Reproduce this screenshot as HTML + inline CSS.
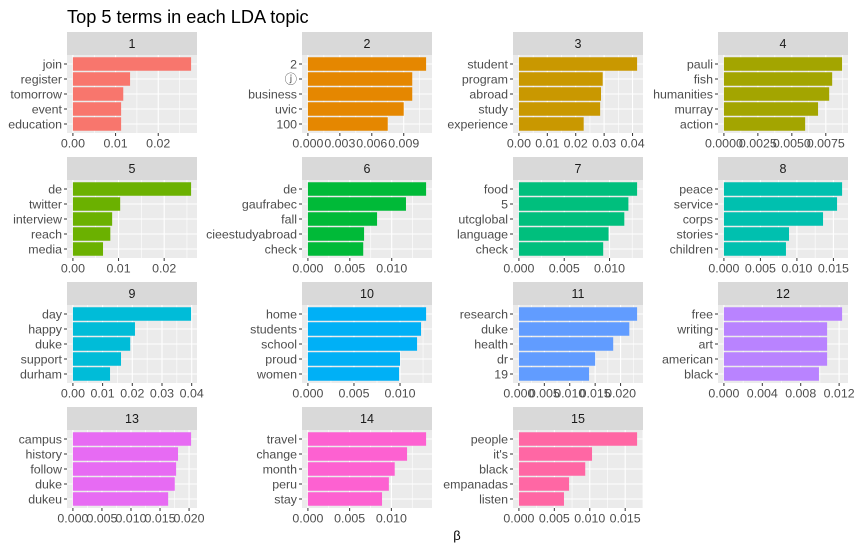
<!DOCTYPE html>
<html><head><meta charset="utf-8">
<style>
body{margin:0;background:#fff;}
svg{display:block;font-family:"Liberation Sans","DejaVu Sans",sans-serif;}
</style></head>
<body>
<svg id="chart" width="856" height="551" viewBox="0 0 856 551">
<text x="67" y="23" font-size="18.2" fill="#000">Top 5 terms in each LDA topic</text>
<text x="457" y="540" font-size="13" fill="#000" text-anchor="middle">β</text>
</svg>
<script>
const topicLabels = ["1","2","3","4","5","6","7","8","9","10","11","12","13","14","15"];
const topicTerms = [
 ["join","register","tomorrow","event","education"],
 ["2","ⓙ","business","uvic","100"],
 ["student","program","abroad","study","experience"],
 ["pauli","fish","humanities","murray","action"],
 ["de","twitter","interview","reach","media"],
 ["de","gaufrabec","fall","cieestudyabroad","check"],
 ["food","5","utcglobal","language","check"],
 ["peace","service","corps","stories","children"],
 ["day","happy","duke","support","durham"],
 ["home","students","school","proud","women"],
 ["research","duke","health","dr","19"],
 ["free","writing","art","american","black"],
 ["campus","history","follow","duke","dukeu"],
 ["travel","change","month","peru","stay"],
 ["people","it's","black","empanadas","listen"]
];
const topicBetas = [
 [0.0277,0.0134,0.0118,0.0113,0.0113],
 [0.0111,0.0098,0.0098,0.0090,0.0075],
 [0.0416,0.0295,0.0289,0.0286,0.0228],
 [0.0087,0.00797,0.00775,0.00693,0.00598],
 [0.0259,0.01036,0.0086,0.0082,0.0066],
 [0.0141,0.0117,0.00825,0.0067,0.0066],
 [0.01304,0.01208,0.01163,0.00989,0.0093],
 [0.01619,0.0155,0.01358,0.00892,0.0085],
 [0.0398,0.0209,0.0193,0.0162,0.0125],
 [0.01283,0.01228,0.01185,0.0100,0.0099],
 [0.02325,0.02172,0.01855,0.0150,0.0138],
 [0.01231,0.01075,0.01075,0.01075,0.0099],
 [0.02035,0.0181,0.01777,0.01754,0.0164],
 [0.01416,0.01188,0.0104,0.0097,0.00888],
 [0.01668,0.01032,0.00936,0.00708,0.00636]
];
const topicTicks = [
 [0,0.01,0.02],[0,0.003,0.006,0.009],[0,0.01,0.02,0.03,0.04],[0,0.0025,0.005,0.0075],
 [0,0.01,0.02],[0,0.005,0.01],[0,0.005,0.01],[0,0.005,0.01,0.015],
 [0,0.01,0.02,0.03,0.04],[0,0.005,0.01],[0,0.005,0.01,0.015,0.02],[0,0.004,0.008,0.012],
 [0,0.005,0.01,0.015,0.02],[0,0.005,0.01],[0,0.005,0.01,0.015]
];
const topicTickLabels = [
 ["0.00","0.01","0.02"],["0.000","0.003","0.006","0.009"],["0.00","0.01","0.02","0.03","0.04"],["0.0000","0.0025","0.0050","0.0075"],
 ["0.00","0.01","0.02"],["0.000","0.005","0.010"],["0.000","0.005","0.010"],["0.000","0.005","0.010","0.015"],
 ["0.00","0.01","0.02","0.03","0.04"],["0.000","0.005","0.010"],["0.000","0.005","0.010","0.015","0.020"],["0.000","0.004","0.008","0.012"],
 ["0.000","0.005","0.010","0.015","0.020"],["0.000","0.005","0.010"],["0.000","0.005","0.010","0.015"]
];
const topicColors = ["#F8766D","#E58700","#C99800","#A3A500","#6BB100","#00BA38","#00BF7D","#00C0AF","#00BCD8","#00B0F6","#619CFF","#B983FF","#E76BF3","#FD61D1","#FF67A4"];

const NS="http://www.w3.org/2000/svg";
const svg=document.getElementById('chart');
const colX=[67,302,513,718], rowY=[32,157,282,407];
const PW=130, SH=23, PH=78, FS=12.4;
function mk(tag,attrs,parent){const e=document.createElementNS(NS,tag);for(const k in attrs)e.setAttribute(k,attrs[k]);(parent||svg).appendChild(e);return e;}

topicLabels.forEach((lab,p)=>{
  const x0=colX[p%4], y0=rowY[Math.floor(p/4)], py=y0+SH;
  const vals=topicBetas[p], M=Math.max(...vals);
  const dmin=-0.05*M, dmax=1.05*M;
  const xs=v=>x0+(v-dmin)/(dmax-dmin)*PW;
  const ys=i=>py+(0.6+i)*PH/5.2;
  const g=mk('g',{});
  
  
  const strip=mk('rect',{x:x0,y:y0,width:PW,height:SH,fill:'#D9D9D9'},g);
  
  
  const st=mk('text',{x:x0+PW/2,y:y0+16,'font-size':12.5,'text-anchor':'middle',fill:'#1A1A1A'},g);
  st.textContent=lab;
  
  
  const bg=mk('rect',{x:x0,y:py,width:PW,height:PH,fill:'#EBEBEB'},g);
  
  
  const ticks=topicTicks[p], step=ticks[1]-ticks[0];
  const minors=[ticks[0]-step/2]; ticks.forEach(t=>minors.push(t+step/2));
  minors.forEach(m=>{ if(m>dmin&&m<dmax){const l=mk('line',{x1:xs(m),x2:xs(m),y1:py,y2:py+PH,stroke:'#fff','stroke-width':0.6},g);
    
    }});
  ticks.forEach(t=>{const l=mk('line',{x1:xs(t),x2:xs(t),y1:py,y2:py+PH,stroke:'#fff','stroke-width':1.1},g);
    
    });
  for(let i=0;i<5;i++){const l=mk('line',{x1:x0,x2:x0+PW,y1:ys(i),y2:ys(i),stroke:'#fff','stroke-width':1.1},g);
    
    }
  vals.forEach((v,i)=>{
    const bh=0.9*PH/5.2;
    const b=mk('rect',{x:xs(0),y:ys(i)-bh/2,width:xs(v)-xs(0),height:bh,fill:topicColors[p]},g);
    
    
    const tk=mk('line',{x1:x0-3,x2:x0,y1:ys(i),y2:ys(i),stroke:'#333','stroke-width':1},g);
    
    
    const tl=mk('text',{x:x0-5,y:ys(i)+4.3,'font-size':FS,'text-anchor':'end',fill:'#4D4D4D'},g);
    tl.textContent=topicTerms[p][i];
    
    
  });
  ticks.forEach((t,j)=>{
    const tk=mk('line',{x1:xs(t),x2:xs(t),y1:py+PH,y2:py+PH+3,stroke:'#333','stroke-width':1},g);
    
    
    const tl=mk('text',{x:xs(t),y:py+PH+14.5,'font-size':FS,'text-anchor':'middle',fill:'#4D4D4D'},g);
    tl.textContent=topicTickLabels[p][j];
    
    
  });
});
</script>
</body></html>
